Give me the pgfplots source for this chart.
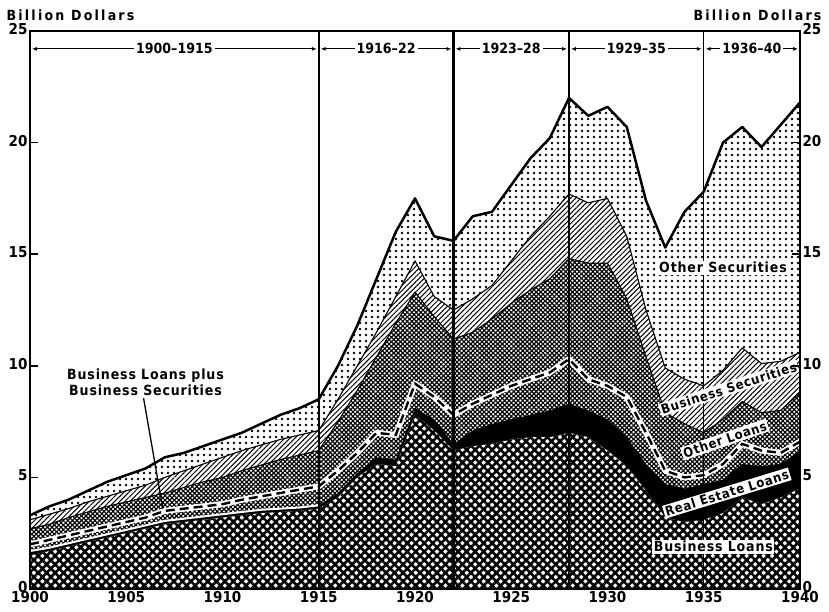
\documentclass[border=0pt]{standalone}
\usepackage{pgfplots}
\pgfplotsset{compat=1.18}
\usepackage{pgfplotstable}
\usepackage{fontspec}
\setmainfont{DejaVu Sans Condensed}
\newfontfamily\spaced[LetterSpace=6]{DejaVu Sans Condensed}
\newfontfamily\wide[LetterSpace=16]{DejaVu Sans Condensed}
\usetikzlibrary{patterns.meta, arrows.meta}

\newcommand\ticks{\fontsize{15}{17}\selectfont\bfseries}
\newcommand\lab{\spaced\fontsize{14}{16}\selectfont\bfseries}
\newcommand\slab{\spaced\fontsize{13}{15}\selectfont\bfseries}
\newcommand\per{\fontsize{14}{16}\selectfont\bfseries}
\newcommand\unit{\wide\fontsize{14}{16}\selectfont\bfseries}

% cumulative boundaries, billion dollars
% b1 business loans, b2 + real estate loans, b3 + other loans,
% b4 + business securities, b5 + other securities (total)
% d  business loans plus business securities
\pgfplotstableread{
year b1   b2   b3   d    b4   b5
1900 1.5  1.7  2.7  2.0  3.1  3.3
1901 1.7  1.85 2.9  2.2  3.35 3.7
1902 1.9  2.05 3.2  2.4  3.6  4.0
1903 2.1  2.25 3.45 2.6  3.9  4.4
1904 2.3  2.45 3.7  2.8  4.15 4.8
1905 2.5  2.65 3.9  3.0  4.4  5.1
1906 2.7  2.85 4.1  3.2  4.65 5.4
1907 2.9  3.05 4.3  3.5  5.0  5.9
1908 3.0  3.15 4.55 3.6  5.3  6.1
1909 3.1  3.25 4.8  3.7  5.6  6.4
1910 3.2  3.35 5.0  3.8  5.9  6.7
1911 3.3  3.45 5.3  4.0  6.2  7.0
1912 3.4  3.55 5.55 4.15 6.45 7.4
1913 3.45 3.6  5.8  4.3  6.7  7.8
1914 3.5  3.65 6.0  4.45 6.9  8.1
1915 3.6  3.75 6.2  4.6  7.1  8.5
1916 4.1  4.3  7.5  5.3  8.5  10.0
1917 5.0  5.2  8.9  6.1  10.0 11.8
1918 5.6  5.9  10.4 7.0  11.5 13.9
1919 5.5  5.8  11.9 6.9  13.1 16.0
1920 7.8  8.1  13.3 9.2  14.7 17.5
1921 7.1  7.6  12.2 8.6  13.1 15.8
1922 6.2  6.5  11.2 7.8  12.5 15.6
1923 6.4  7.1  11.5 8.3  13.0 16.7
1924 6.5  7.4  12.1 8.7  13.6 16.9
1925 6.7  7.6  12.8 9.1  14.7 18.1
1926 6.8  7.8  13.4 9.4  15.8 19.3
1927 6.8  8.0  13.9 9.7  16.7 20.2
1928 7.0  8.3  14.8 10.3 17.7 22.0
1929 6.8  8.0  14.6 9.4  17.3 21.2
1930 6.2  7.6  14.6 9.1  17.5 21.6
1931 5.5  6.8  13.0 8.6  15.8 20.7
1932 4.4  5.6  10.4 7.0  12.5 17.4
1933 3.2  4.7  7.9  5.3  9.9  15.3
1934 3.0  4.5  7.4  5.0  9.4  16.9
1935 3.1  4.7  7.0  5.1  9.1  17.8
1936 3.4  4.9  7.6  5.6  9.8  20.0
1937 4.1  5.6  8.4  6.5  10.8 20.7
1938 3.8  5.5  7.9  6.2  10.1 19.8
1939 4.1  5.6  8.0  6.1  10.2 20.8
1940 4.5  6.2  8.8  6.6  10.6 21.8
}\banks

\tikzset{
  white area/.style={draw=none, fill=white},
  coarse ne/.style={draw=none, pattern={Lines[angle=45,distance=6pt,line width=2.6pt]}},
  coarse nw/.style={draw=none, pattern={Lines[angle=-45,distance=6pt,line width=2.6pt]}},
  fine ne/.style={draw=none, pattern={Lines[angle=45,distance=3.2pt,line width=1.2pt]}},
  fine nw/.style={draw=none, pattern={Lines[angle=-45,distance=3.2pt,line width=1.2pt]}},
  hatch/.style={draw=none, pattern={Lines[angle=45,distance=3.6pt,line width=1pt]}},
  dotted area/.style={draw=none, pattern={Dots[distance=6pt,radius=1.3pt]}},
  period/.style={{Latex[length=5pt,width=4pt]}-{Latex[length=5pt,width=4pt]}, line width=1.1pt},
  plabel/.style={midway, fill=white, font=\per, inner sep=2pt},
  box/.style={font=\lab, fill=white, inner sep=1.5pt},
  sbox/.style={font=\slab, fill=white, inner sep=1.5pt}
}

\begin{document}
\begin{tikzpicture}
\useasboundingbox (-30pt,-22pt) rectangle (799pt,589pt);
\begin{axis}[
  at={(0pt,0pt)}, anchor=south west,
  scale only axis, width=770pt, height=558pt,
  xmin=1900, xmax=1940, ymin=0, ymax=25,
  xtick={1900,1905,...,1940},
  xticklabels={1900,1905,1910,1915,1920,1925,1930,1935,1940},
  ytick={0,5,10,15,20,25},
  yticklabels={0,5,10,15,20,25},
  tick align=inside,
  major tick length=8pt,
  xtick style={draw=none},
  ytick style={line width=1.5pt, black},
  axis line style={line width=1.8pt},
  ticklabel style={font=\ticks},
  xticklabel style={yshift=1pt},
  yticklabel style={xshift=1pt, yshift=2pt},
  axis on top,
]
% other securities (total)
\addplot[white area] table[x=year,y=b5] {\banks} \closedcycle;
\addplot[dotted area] table[x=year,y=b5] {\banks} \closedcycle;
% business securities
\addplot[white area] table[x=year,y=b4] {\banks} \closedcycle;
\addplot[hatch] table[x=year,y=b4] {\banks} \closedcycle;
% other loans
\addplot[white area] table[x=year,y=b3] {\banks} \closedcycle;
\addplot[fine ne] table[x=year,y=b3] {\banks} \closedcycle;
\addplot[fine nw] table[x=year,y=b3] {\banks} \closedcycle;
% real estate loans
\addplot[draw=none, fill=black] table[x=year,y=b2] {\banks} \closedcycle;
% business loans
\addplot[white area] table[x=year,y=b1] {\banks} \closedcycle;
\addplot[coarse ne] table[x=year,y=b1] {\banks} \closedcycle;
\addplot[coarse nw] table[x=year,y=b1] {\banks} \closedcycle;

\addplot[white, line width=2pt, restrict x to domain=1900:1915] table[x=year,y=b2] {\banks};
\addplot[black, line width=1.1pt, line join=round] table[x=year,y=b3] {\banks};
\addplot[black, line width=1.1pt, line join=round] table[x=year,y=b4] {\banks};
\addplot[black, line width=2.5pt, line join=round] table[x=year,y=b5] {\banks};

\addplot[white, line width=6pt, line join=round] table[x=year,y=d] {\banks};
\addplot[black, line width=2.4pt, dash pattern=on 9pt off 5pt] table[x=year,y=d] {\banks};

\draw[line width=2.2pt] (axis cs:1915,0) -- (axis cs:1915,25);
\draw[line width=2.2pt] (axis cs:1922,0) -- (axis cs:1922,25);
\draw[line width=2.2pt] (axis cs:1928,0) -- (axis cs:1928,25);
\draw[line width=1.4pt] (axis cs:1935,0) -- (axis cs:1935,25);

\draw[period] (axis cs:1900.1,24.2) -- (axis cs:1914.9,24.2) node[plabel] {1900--1915};
\draw[period] (axis cs:1915.1,24.2) -- (axis cs:1921.9,24.2) node[plabel] {1916--22};
\draw[period] (axis cs:1922.1,24.2) -- (axis cs:1927.9,24.2) node[plabel] {1923--28};
\draw[period] (axis cs:1928.1,24.2) -- (axis cs:1934.9,24.2) node[plabel] {1929--35};
\draw[period] (axis cs:1935.1,24.2) -- (axis cs:1939.9,24.2) node[plabel] {1936--40};

\node[box] at (axis cs:1936.0,14.4) {Other Securities};
\node[sbox, rotate=18] at (axis cs:1936.3,9.0) {Business Securities};
\node[sbox, rotate=19] at (axis cs:1936.1,6.7) {Other Loans};
\node[sbox, rotate=17] at (axis cs:1936.2,4.3) {Real Estate Loans};
\node[box] at (axis cs:1935.5,1.9) {Business Loans};
\node[font=\lab, align=center] at (axis cs:1906.0,9.25) {Business Loans plus\\Business Securities};
\draw[line width=1.3pt] (axis cs:1905.9,8.55) -- (axis cs:1906.9,3.6);
\end{axis}

\begin{axis}[
  at={(0pt,0pt)}, anchor=south west,
  scale only axis, width=770pt, height=558pt,
  xmin=1900, xmax=1940, ymin=0, ymax=25,
  hide x axis,
  axis y line*=right,
  ytick={0,5,10,15,20,25},
  yticklabels={0,5,10,15,20,25},
  tick align=inside,
  major tick length=8pt,
  ytick style={line width=1.5pt, black},
  axis line style={line width=1.8pt},
  ticklabel style={font=\ticks},
  yticklabel style={xshift=-1pt, yshift=2pt},
]
\end{axis}

\node[font=\unit, anchor=west] at (-27pt,574pt) {Billion Dollars};
\node[font=\unit, anchor=east] at (795pt,574pt) {Billion Dollars};
\end{tikzpicture}
\end{document}
